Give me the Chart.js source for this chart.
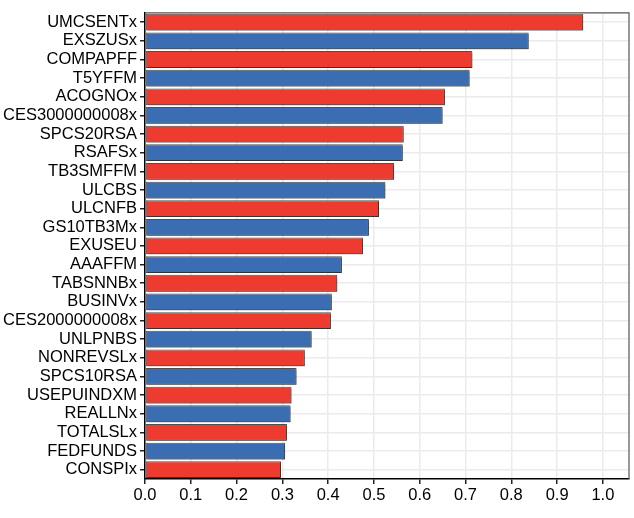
<!DOCTYPE html>
<html>
<head>
<meta charset="utf-8">
<script src="https://cdn.jsdelivr.net/npm/chart.js@4/dist/chart.umd.min.js"></script>
<style>
  html, body { margin: 0; padding: 0; background: #fff; }
  #wrap { width: 634px; height: 518px; }
</style>
</head>
<body>
<div id="wrap"><canvas id="imp"></canvas></div>
<script>
const labels = [
  'UMCSENTx', 'EXSZUSx', 'COMPAPFF', 'T5YFFM', 'ACOGNOx', 'CES3000000008x',
  'SPCS20RSA', 'RSAFSx', 'TB3SMFFM', 'ULCBS', 'ULCNFB', 'GS10TB3Mx', 'EXUSEU',
  'AAAFFM', 'TABSNNBx', 'BUSINVx', 'CES2000000008x', 'UNLPNBS', 'NONREVSLx',
  'SPCS10RSA', 'USEPUINDXM', 'REALLNx', 'TOTALSLx', 'FEDFUNDS', 'CONSPIx'
];
const importance = [
  0.957, 0.838, 0.715, 0.709, 0.655, 0.650,
  0.565, 0.563, 0.544, 0.525, 0.511, 0.489, 0.476,
  0.430, 0.420, 0.408, 0.406, 0.364, 0.349,
  0.331, 0.320, 0.318, 0.310, 0.306, 0.297
];
const xTicks = [0, 0.1, 0.2, 0.3, 0.4, 0.5, 0.6, 0.7, 0.8, 0.9, 1.0];

const red = '#EE3B2F';
const blue = '#3A6DB1';
const barColors = labels.map((_, i) => (i % 2 === 0 ? red : blue));

// grey frame on top/right of the panel + light shadow under the bars
const panelBorder = {
  id: 'panelBorder',
  beforeDatasetsDraw(chart) {
    const ctx = chart.ctx;
    ctx.save();
    ctx.shadowColor = 'rgba(0,0,0,0.35)';
    ctx.shadowOffsetX = 1;
    ctx.shadowOffsetY = 1.5;
    ctx.shadowBlur = 0;
  },
  afterDatasetsDraw(chart) {
    chart.ctx.restore();
  },
  afterDraw(chart) {
    const { ctx, chartArea: a } = chart;
    ctx.save();
    ctx.strokeStyle = '#555';
    ctx.lineWidth = 1.2;
    ctx.beginPath();
    ctx.moveTo(a.left, a.top);
    ctx.lineTo(a.right, a.top);
    ctx.lineTo(a.right, a.bottom);
    ctx.stroke();
    ctx.restore();
  }
};

new Chart(document.getElementById('imp'), {
  type: 'bar',
  data: {
    labels: labels,
    datasets: [{
      data: importance,
      backgroundColor: barColors,
      borderColor: 'rgba(20,20,20,0.75)',
      borderWidth: 1,
      borderSkipped: false,
      barPercentage: 0.9,
      categoryPercentage: 1.0
    }]
  },
  options: {
    indexAxis: 'y',
    responsive: true,
    maintainAspectRatio: false,
    animation: false,
    layout: { padding: { top: 10, right: 5, left: 0, bottom: 0 } },
    plugins: { legend: { display: false }, tooltip: { enabled: false } },
    scales: {
      x: {
        min: 0,
        max: 1.057,
        afterBuildTicks: (s) => { s.ticks = xTicks.map(v => ({ value: v })); },
        afterFit: (s) => { s.height = 39; },
        ticks: {
          color: '#000',
          font: { family: "'Liberation Sans', Arial, sans-serif", size: 16.5 },
          padding: 2,
          maxRotation: 0,
          callback: (v) => Number(v).toFixed(1)
        },
        grid: {
          color: '#EBEBEB',
          lineWidth: 1.5,
          tickColor: '#222',
          tickLength: 5,
          drawTicks: true
        },
        border: { display: true, color: '#000', width: 1.5 }
      },
      y: {
        afterFit: (s) => { s.width = 145; },
        ticks: {
          color: '#000',
          font: { family: "'Liberation Sans', Arial, sans-serif", size: 16.5 },
          padding: 3,
          autoSkip: false
        },
        grid: {
          offset: false,
          color: '#EBEBEB',
          lineWidth: 1.5,
          tickColor: '#222',
          tickLength: 5
        },
        border: { display: true, color: '#000', width: 1.5 }
      }
    }
  },
  plugins: [panelBorder]
});
</script>
</body>
</html>
